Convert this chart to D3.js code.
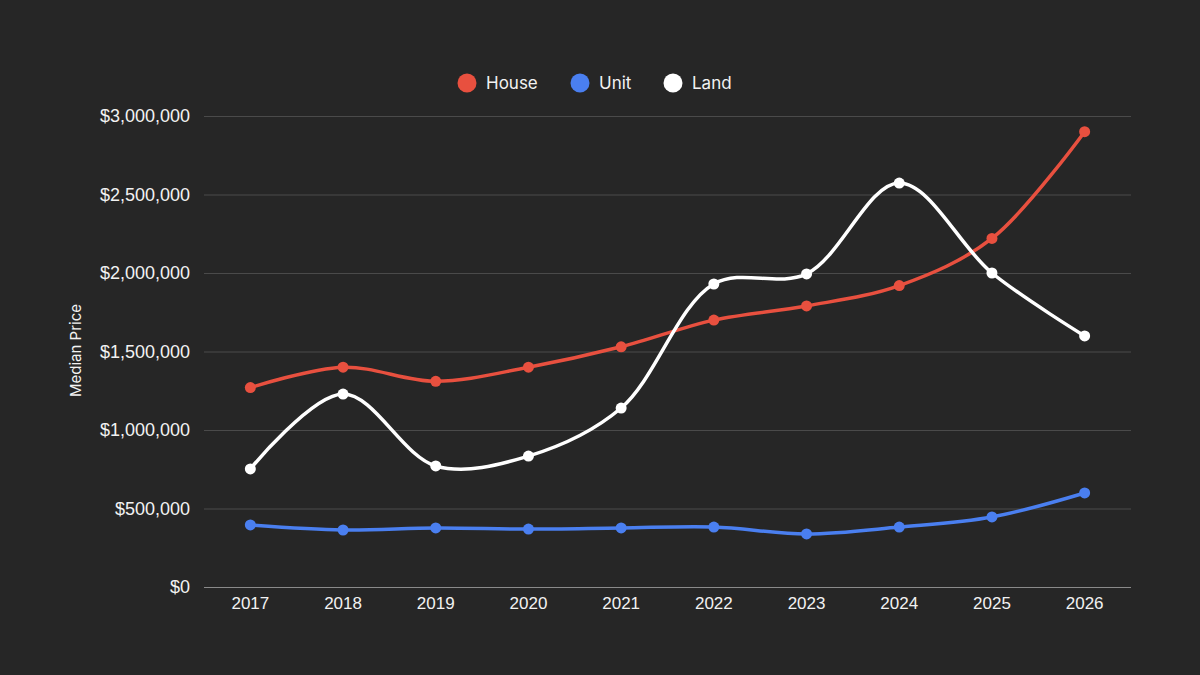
<!DOCTYPE html>
<html>
<head>
<meta charset="utf-8">
<script src="https://cdn.jsdelivr.net/npm/d3@7"></script>
<style>
  html, body { margin: 0; padding: 0; background: #262626; }
  svg { display: block; font-family: Inter, "Liberation Sans", sans-serif; }
</style>
</head>
<body>
<div id="chart"></div>
<script>
'use strict';

var years = ['2017', '2018', '2019', '2020', '2021', '2022', '2023', '2024', '2025', '2026'];
var house = [1270000, 1400000, 1310000, 1400000, 1530000, 1700000, 1790000, 1920000, 2220000, 2900000];
var unit  = [395000, 363000, 376000, 369000, 376000, 382000, 338000, 382000, 446000, 599000];
var land  = [752000, 1229000, 771000, 834000, 1140000, 1930000, 1994000, 2573000, 2000000, 1599000];
var yTicks = [0, 500000, 1000000, 1500000, 2000000, 2500000, 3000000];

var series = [
  { name: 'House', values: house, color: '#e8503f' },
  { name: 'Unit',  values: unit,  color: '#4a7ff0' },
  { name: 'Land',  values: land,  color: '#ffffff' }
];

var width = 1200, height = 675;
var plotLeft = 204, plotRight = 1131, plotTop = 116, plotBottom = 587;

var svg = d3.select('#chart')
            .append('svg')
            .attr('width', width)
            .attr('height', height);

svg.append('rect')
   .attr('width', width)
   .attr('height', height)
   .attr('fill', '#262626');

var x = d3.scaleBand()
          .domain(years)
          .range([plotLeft, plotRight]);

var y = d3.scaleLinear()
          .domain([0, 3000000])
          .range([plotBottom, plotTop]);

var fmt = function(d) { return '$' + d3.format(',')(d); };

// Grid lines and y labels

var yAxis = svg.append('g')
               .attr('transform', 'translate(' + plotLeft + ',0)')
               .call(d3.axisLeft(y)
                       .tickValues(yTicks)
                       .tickFormat(fmt)
                       .tickSize(-(plotRight - plotLeft))
                       .tickPadding(14));

yAxis.select('.domain').remove();
yAxis.selectAll('.tick line')
     .attr('stroke', function(d) { return d === 0 ? '#8a8a8a' : '#4a4a4a'; })
     .attr('stroke-width', 1);
yAxis.selectAll('.tick text')
     .attr('fill', '#f2f2f2')
     .attr('font-size', 18);

// X labels

var xAxis = svg.append('g')
               .attr('transform', 'translate(0,' + plotBottom + ')')
               .call(d3.axisBottom(x).tickSize(0).tickPadding(10));

xAxis.select('.domain').remove();
xAxis.selectAll('.tick text')
     .attr('fill', '#f2f2f2')
     .attr('font-size', 17);

// Y title

svg.append('text')
   .attr('transform', 'translate(81,' + ((plotTop + plotBottom) / 2 - 1) + ') rotate(-90)')
   .attr('text-anchor', 'middle')
   .attr('fill', '#f2f2f2')
   .attr('font-size', 15)
   .text('Median Price');

// Lines and points

var line = d3.line()
             .x(function(d, i) { return x(years[i]) + x.bandwidth() / 2; })
             .y(function(d) { return y(d); })
             .curve(d3.curveCatmullRom.alpha(0.5));

series.forEach(function(s) {
  var g = svg.append('g');

  g.append('path')
   .datum(s.values)
   .attr('d', line)
   .attr('fill', 'none')
   .attr('stroke', s.color)
   .attr('stroke-width', 3.5);

  g.selectAll('circle')
   .data(s.values)
   .enter()
   .append('circle')
   .attr('cx', function(d, i) { return x(years[i]) + x.bandwidth() / 2; })
   .attr('cy', function(d) { return y(d); })
   .attr('r', 5.5)
   .attr('fill', s.color);
});

// Legend

var legendX = [467, 580, 673];

var legend = svg.append('g');

series.forEach(function(s, i) {
  legend.append('circle')
        .attr('cx', legendX[i])
        .attr('cy', 83)
        .attr('r', 9.5)
        .attr('fill', s.color);

  legend.append('text')
        .attr('x', legendX[i] + 19)
        .attr('y', 89)
        .attr('fill', '#f2f2f2')
        .attr('font-size', 17)
        .text(s.name);
});
</script>
</body>
</html>
